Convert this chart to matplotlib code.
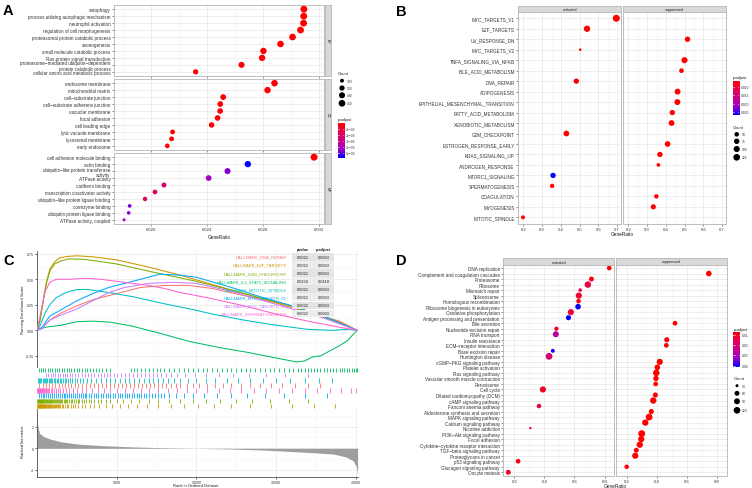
import numpy as np
import matplotlib
matplotlib.use('Agg')
import matplotlib.pyplot as plt
from matplotlib.colors import LinearSegmentedColormap, Normalize

plt.rcParams['font.family'] = ['Liberation Sans', 'DejaVu Sans']

# ================= Panel A : GO enrichment =================
a_bp_terms = ['autophagy', 'process utilizing autophagic mechanism', 'neutrophil activation',
              'regulation of cell morphogenesis', 'proteasomal protein catabolic process',
              'axonogenesis', 'small molecule catabolic process', 'Ras protein signal transduction',
              'proteasome−mediated ubiquitin−dependent\nprotein catabolic process',
              'cellular amino acid metabolic process']
a_bp_ratio = [0.03090, 0.03089, 0.03088, 0.03066, 0.03009, 0.02923, 0.02801, 0.02791, 0.02644, 0.02316]
a_bp_count = [468, 466, 465, 461, 452, 440, 425, 423, 402, 350]
a_bp_padj = [0.05, 0.05, 0.05, 0.06, 0.06, 0.08, 0.10, 0.10, 0.15, 0.20]   # x 1e-9

a_cc_terms = ['endosome membrane', 'mitochondrial matrix', 'cell−substrate junction',
              'cell−substrate adherens junction', 'vacuolar membrane', 'focal adhesion',
              'cell leading edge', 'lytic vacuole membrane', 'lysosomal membrane', 'early endosome']
a_cc_ratio = [0.02880, 0.02830, 0.02513, 0.02492, 0.02491, 0.02473, 0.02430, 0.02151, 0.02144, 0.02113]
a_cc_count = [438, 430, 380, 376, 376, 373, 366, 330, 329, 324]
a_cc_padj = [0.10, 0.10, 0.10, 0.10, 0.10, 0.10, 0.10, 0.10, 0.10, 0.15]

a_mf_terms = ['cell adhesion molecule binding', 'actin binding',
              'ubiquitin−like protein transferase\nactivity', 'ATPase activity', 'cadherin binding',
              'transcription coactivator activity', 'ubiquitin−like protein ligase binding',
              'coenzyme binding', 'ubiquitin protein ligase binding', 'ATPase activity, coupled']
a_mf_ratio = [0.03163, 0.02689, 0.02544, 0.02409, 0.02089, 0.02025, 0.01954, 0.01844, 0.01837, 0.01804]
a_mf_count = [478, 425, 400, 380, 335, 325, 315, 296, 295, 290]
a_mf_padj = [0.05, 5.77, 4.60, 4.15, 2.60, 1.75, 2.00, 4.75, 4.50, 4.15]

a_count_breaks = [300, 350, 400, 450]
a_padj_breaks = [1, 2, 3, 4, 5]
a_padj_labels = ['1e−09', '2e−09', '3e−09', '4e−09', '5e−09']

# ================= Panel B : Hallmark GSEA dotplot =================
b_terms = ['MYC_TARGETS_V1', 'E2F_TARGETS', 'UV_RESPONSE_DN', 'MYC_TARGETS_V2',
           'TNFA_SIGNALING_VIA_NFKB', 'BILE_ACID_METABOLISM', 'DNA_REPAIR', 'ADIPOGENESIS',
           'EPITHELIAL_MESENCHYMAL_TRANSITION', 'FATTY_ACID_METABOLISM', 'XENOBIOTIC_METABOLISM',
           'G2M_CHECKPOINT', 'ESTROGEN_RESPONSE_EARLY', 'KRAS_SIGNALING_UP', 'ANDROGEN_RESPONSE',
           'MTORC1_SIGNALING', 'SPERMATOGENESIS', 'COAGULATION', 'MYOGENESIS', 'MITOTIC_SPINDLE']
b_group = ['activated', 'activated', 'suppressed', 'activated', 'suppressed', 'suppressed',
           'activated', 'suppressed', 'suppressed', 'suppressed', 'suppressed', 'activated',
           'suppressed', 'suppressed', 'suppressed', 'activated', 'activated', 'suppressed',
           'suppressed', 'activated']
b_ratio = [0.695, 0.539, 0.515, 0.503, 0.499, 0.483, 0.482, 0.462, 0.461, 0.434, 0.430,
           0.429, 0.409, 0.368, 0.360, 0.358, 0.353, 0.349, 0.333, 0.198]
b_count = [139, 108, 74, 29, 100, 54, 72, 92, 92, 69, 86, 86, 82, 74, 36, 72, 48, 48, 67, 40]
b_padj = [0.0064, 0.0064, 0.0065, 0.0066, 0.0064, 0.0065, 0.0066, 0.0064, 0.0064, 0.0065,
          0.0064, 0.0064, 0.0065, 0.0065, 0.0066, 0.0266, 0.0068, 0.0066, 0.0065, 0.0068]
b_count_breaks = [50, 75, 100, 125]
b_padj_breaks = [0.010, 0.015, 0.020, 0.025]
b_padj_labels = ['0.010', '0.015', '0.020', '0.025']

# ================= Panel C : GSEA running enrichment =================
c_sets = ['HALLMARK_DNA_REPAIR', 'HALLMARK_E2F_TARGETS', 'HALLMARK_G2M_CHECKPOINT',
          'HALLMARK_IL2_STAT5_SIGNALING', 'HALLMARK_MITOTIC_SPINDLE', 'HALLMARK_MYC_TARGETS_V1',
          'HALLMARK_MYC_TARGETS_V2', 'HALLMARK_SPERMATOGENESIS']
c_colors = ['#F8766D', '#CD9600', '#7CAE00', '#00BE67', '#00BFC4', '#00A9FF', '#C77CFF', '#FF61CC']
c_pvalue = ['0.0022', '0.0022', '0.0022', '0.0234', '0.0022', '0.0022', '0.0022', '0.0022']
c_padjust = ['0.0063', '0.0063', '0.0063', '0.0418', '0.0063', '0.0063', '0.0063', '0.0063']

es_dna_rank = [0, 300, 800, 1500, 2500, 3500, 4500, 5500, 6500, 8000, 9500, 11000, 13000, 15000, 17000, 19000, 20100]
es_dna = [0, 0.02, 0.10, 0.17, 0.24, 0.30, 0.34, 0.38, 0.42, 0.44, 0.44, 0.41, 0.34, 0.27, 0.18, 0.09, 0.0]
es_e2f_rank = [0, 200, 400, 600, 800, 1100, 1400, 2000, 2500, 3500, 5000, 7000, 9000, 11000, 13000, 15000, 17000, 19000, 20100]
es_e2f = [0, 0.12, 0.31, 0.48, 0.60, 0.67, 0.71, 0.725, 0.73, 0.72, 0.69, 0.62, 0.54, 0.45, 0.36, 0.27, 0.18, 0.08, 0.0]
es_g2m_rank = [0, 200, 400, 600, 800, 1100, 1500, 2000, 3000, 5000, 7000, 8500, 10000, 12000, 14000, 16000, 18000, 20100]
es_g2m = [0, 0.10, 0.30, 0.47, 0.58, 0.65, 0.68, 0.70, 0.695, 0.65, 0.58, 0.53, 0.48, 0.40, 0.32, 0.24, 0.13, 0.0]
es_il2_rank = [0, 500, 1500, 2500, 3500, 4600, 6000, 7500, 9600, 11500, 13200, 15000, 16300, 16800, 17300, 17800, 18400, 19000, 19500, 19850, 20100]
es_il2 = [0, 0.03, 0.05, 0.085, 0.09, 0.08, 0.04, -0.02, -0.11, -0.17, -0.215, -0.27, -0.31, -0.30, -0.26, -0.25, -0.20, -0.15, -0.10, -0.04, 0.0]
es_mit_rank = [0, 200, 500, 800, 1200, 1800, 2500, 3200, 4500, 6000, 8000, 9600, 11000, 13000, 15000, 17000, 18500, 19500, 20100]
es_mit = [0, 0.05, 0.17, 0.25, 0.32, 0.37, 0.40, 0.40, 0.37, 0.33, 0.26, 0.21, 0.16, 0.10, 0.05, 0.01, 0.0, 0.01, 0.0]
es_myc1_rank = [0, 300, 800, 1500, 2500, 3500, 4500, 5500, 6500, 7700, 9000, 10000, 12000, 14000, 16000, 18000, 20100]
es_myc1 = [0, 0.03, 0.14, 0.20, 0.29, 0.36, 0.42, 0.46, 0.50, 0.55, 0.54, 0.52, 0.43, 0.33, 0.24, 0.14, 0.0]
es_myc2_rank = [0, 300, 800, 1500, 2500, 3500, 4500, 5500, 7000, 8500, 10000, 12000, 14000, 16000, 18000, 20100]
es_myc2 = [0, 0.02, 0.10, 0.15, 0.21, 0.29, 0.37, 0.42, 0.46, 0.47, 0.46, 0.39, 0.30, 0.21, 0.12, 0.0]
es_sperm_rank = [0, 200, 500, 800, 1200, 2000, 3000, 4000, 5000, 6000, 7000, 8000, 9000, 11000, 13000, 15000, 17000, 19000, 20100]
es_sperm = [0, 0.15, 0.38, 0.47, 0.50, 0.50, 0.51, 0.50, 0.48, 0.46, 0.44, 0.41, 0.37, 0.31, 0.24, 0.16, 0.09, 0.03, 0.0]

hits_il2 = [120, 250, 380, 520, 660, 800, 950, 1100, 1250, 1400, 1550, 1700, 1850, 2000, 2150, 2300,
            2480, 2650, 2800, 2980, 3150, 3300, 3500, 3700, 3900, 4100, 4350, 4600, 5900, 6100, 6300,
            6500, 6750, 7000, 7250, 7500, 7750, 8000, 8300, 8600, 8900, 9200, 9500, 9800, 10100,
            10400, 10700, 11000, 11300, 11600, 11900, 12200, 12500, 12800, 13100, 13400, 13700,
            14000, 14300, 14600, 14900, 15200, 15500, 15800, 16100, 16400, 16600, 16800, 17000,
            17200, 17400, 17600, 17800, 18000, 18200, 18400, 18600, 18800, 19000, 19150, 19300,
            19450, 19600, 19750, 19900, 20000, 20080]
hits_myc2 = [550, 700, 850, 1000, 1150, 1300, 1450, 1600, 1750, 1900, 2050, 2200, 2400, 2600, 2800,
             3000, 3200, 3400, 3600, 3800, 4000, 4200, 4400, 4600, 4800, 5000, 5250, 5500, 5750,
             6000, 6250, 6500, 6750, 7000, 7250, 7500, 7800, 8100, 8400, 8800, 9300, 9900, 10600,
             11400, 12300, 13300, 14400, 15600, 17000]
hits_mit = [60, 130, 200, 270, 340, 410, 480, 560, 640, 720, 800, 880, 960, 1050, 1140, 1230, 1320,
            1420, 1520, 1620, 1730, 1840, 1950, 2070, 2200, 2350, 2500, 2700, 2900, 3150, 3400, 3700,
            4000, 4300, 4600, 4900, 5200, 5500, 5800, 6100, 6400, 6700, 7000, 7300, 7600, 7900, 8200,
            8600, 9000, 9500, 10000, 10600, 11200, 11900, 12600, 13400, 14200, 15000, 15900, 16800,
            17700, 18500]
hits_dna = [150, 350, 550, 750, 950, 1150, 1350, 1550, 1750, 1950, 2150, 2350, 2600, 2850, 3100,
            3350, 3600, 3850, 4100, 4350, 4600, 4850, 5100, 5350, 5600, 5850, 6100, 6350, 6600,
            6850, 7100, 7350, 7600, 7850, 8100, 8400, 8700, 9000, 9400, 9800, 10200, 10700, 11200,
            11700, 12200, 12800, 13400, 14000, 14700, 15400, 16200, 17000, 17800]
hits_sperm = [20, 50, 80, 110, 140, 170, 200, 240, 280, 320, 370, 420, 480, 540, 610, 680, 760, 850,
              950, 1060, 1180, 1310, 1450, 1600, 1800, 2000, 2250, 2500, 2800, 3100, 3450, 3800, 4200,
              4600, 5000, 5500, 6000, 6500, 7000, 7600, 8200, 8800, 9400, 10000, 10700, 11400, 12100,
              12800, 13600, 14400, 15200, 16000, 16800, 17600, 18400, 19100, 19700, 20050]
hits_myc1 = [100, 220, 340, 460, 580, 700, 820, 940, 1060, 1180, 1300, 1420, 1540, 1660, 1780, 1900,
             2020, 2140, 2260, 2380, 2500, 2620, 2740, 2860, 2980, 3100, 3250, 3400, 3550, 3700, 3850,
             4000, 4150, 4300, 4450, 4600, 4750, 4900, 5050, 5200, 5350, 5500, 5650, 5800, 5950,
             6100, 6250, 6400, 6550, 6700, 6850, 7000, 7200, 7400, 7600, 7800, 8000, 8300, 8700,
             9200, 9800, 10500, 11300, 12200, 13200, 14300, 15500, 16800, 18200]
hits_g2m = [10, 40, 70, 100, 130, 160, 190, 220, 250, 280, 310, 340, 370, 400, 440, 480, 520, 560,
            600, 640, 680, 720, 760, 800, 850, 900, 950, 1000, 1060, 1120, 1180, 1240, 1300, 1370,
            1440, 1510, 1580, 1660, 1740, 1820, 1900, 2000, 2100, 2200, 2300, 2420, 2540, 2660, 2800,
            2950, 3100, 3250, 3400, 3600, 3800, 4000, 4300, 4600, 5000, 5400, 5900, 6400, 7000, 7600,
            8300, 9000, 9800, 10600, 11500, 12500, 13500, 14600, 15800, 17000]
hits_e2f = [5, 30, 55, 80, 105, 130, 155, 180, 205, 230, 260, 290, 320, 350, 380, 410, 440, 475, 510,
            545, 580, 620, 660, 700, 740, 780, 830, 880, 930, 980, 1040, 1100, 1160, 1230, 1300, 1380,
            1460, 1550, 1650, 1750, 1850, 1970, 2100, 2250, 2400, 2600, 2800, 3000, 3300, 3600, 3900,
            4300, 4700, 5200, 5700, 6300, 6900, 7600, 8400, 9200, 10100, 11100, 12200, 13400, 14700,
            16000, 17400, 18700]

metric_rank = [0, 50, 150, 400, 800, 1500, 2500, 4000, 6000, 8000, 10000, 12000, 14000, 15000,
               17000, 18600, 19400, 19850, 20050, 20130]
metric_value = [3.0, 2.0, 1.4, 1.1, 0.87, 0.6, 0.4, 0.25, 0.13, 0.05, 0.0, -0.06, -0.15, -0.22,
                -0.38, -0.53, -0.8, -1.15, -1.7, -2.4]

# ================= Panel D : KEGG GSEA dotplot =================
d_terms = ['DNA replication', 'Complement and coagulation cascades', 'Proteasome', 'Ribosome',
           'Mismatch repair', 'Spliceosome', 'Homologous recombination',
           'Ribosome biogenesis in eukaryotes', 'Oxidative phosphorylation',
           'Antigen processing and presentation', 'Bile secretion', 'Nucleotide excision repair',
           'RNA transport', 'Insulin resistance', 'ECM−receptor interaction', 'Base excision repair',
           'Huntington disease', 'cGMP−PKG signaling pathway', 'Platelet activation',
           'Ras signaling pathway', 'Vascular smooth muscle contraction', 'Peroxisome', 'Cell cycle',
           'Dilated cardiomyopathy (DCM)', 'cAMP signaling pathway', 'Fanconi anemia pathway',
           'Aldosterone synthesis and secretion', 'MAPK signaling pathway', 'Calcium signaling pathway',
           'Nicotine addiction', 'PI3K−Akt signaling pathway', 'Focal adhesion',
           'Cytokine−cytokine receptor interaction', 'TGF−beta signaling pathway',
           'Proteoglycans in cancer', 'p53 signaling pathway', 'Glucagon signaling pathway',
           'Oocyte meiosis']
d_group = ['activated', 'suppressed', 'activated', 'activated', 'activated', 'activated', 'activated',
           'activated', 'activated', 'activated', 'suppressed', 'activated', 'activated', 'suppressed',
           'suppressed', 'activated', 'activated', 'suppressed', 'suppressed', 'suppressed',
           'suppressed', 'suppressed', 'activated', 'suppressed', 'suppressed', 'activated',
           'suppressed', 'suppressed', 'suppressed', 'activated', 'suppressed', 'suppressed',
           'suppressed', 'suppressed', 'suppressed', 'activated', 'suppressed', 'activated']
d_ratio = [0.831, 0.745, 0.713, 0.689, 0.638, 0.629, 0.627, 0.624, 0.576, 0.560, 0.520, 0.480,
           0.476, 0.465, 0.462, 0.456, 0.431, 0.418, 0.402, 0.395, 0.393, 0.391, 0.390, 0.389,
           0.375, 0.364, 0.362, 0.347, 0.322, 0.307, 0.298, 0.295, 0.285, 0.262, 0.255, 0.225,
           0.198, 0.160]
d_count = [55, 80, 60, 110, 35, 100, 50, 80, 100, 65, 55, 45, 95, 65, 55, 40, 125, 100, 80, 115,
           75, 55, 100, 65, 110, 50, 65, 125, 105, 28, 130, 100, 105, 60, 100, 55, 50, 60]
d_padj = [0.0075, 0.0076, 0.0080, 0.0142, 0.0177, 0.0125, 0.0090, 0.0410, 0.0142, 0.0416, 0.0076,
          0.0108, 0.0280, 0.0076, 0.0078, 0.0400, 0.0210, 0.0076, 0.0076, 0.0076, 0.0077, 0.0078,
          0.0115, 0.0077, 0.0076, 0.0142, 0.0077, 0.0076, 0.0076, 0.0142, 0.0076, 0.0076, 0.0076,
          0.0078, 0.0076, 0.0108, 0.0080, 0.0125]
d_count_breaks = [30, 60, 90, 120]
d_padj_breaks = [0.01, 0.02, 0.03, 0.04]
d_padj_labels = ['0.01', '0.02', '0.03', '0.04']

# ================= helpers =================
W, H = 752, 489
fig = plt.figure(figsize=(W / 100, H / 100), dpi=100)
cmap = LinearSegmentedColormap.from_list('rb', ['#FF0000', '#E8004F', '#C80088', '#9E00C7', '#0000FF'])
TXT = '#333333'
GRID = '#EBEBEB'
GRIDMIN = '#F5F5F5'
BORDER = '#BDBDBD'


def add_ax(x0, y0, x1, y1, **kw):
    return fig.add_axes([x0 / W, 1 - y1 / H, (x1 - x0) / W, (y1 - y0) / H], **kw)


def diam(c, cmin, cmax, dmin, dmax):
    c = np.asarray(c, float)
    return dmin + (dmax - dmin) * np.sqrt(np.clip((c - cmin) / (cmax - cmin), 0, 1))


def s_of(d):
    return (np.asarray(d) * 0.72) ** 2


def dot_panel(ax, xv, rows, dd, cols, nrows, xlim, xmaj, xminr, labels=None, show_x=True, xlabs=None):
    ax.set_xlim(*xlim)
    ax.set_ylim(nrows - 0.4, -0.6)
    for v in xminr:
        ax.axvline(v, color=GRIDMIN, lw=0.4, zorder=0)
    for v in xmaj:
        ax.axvline(v, color=GRID, lw=0.6, zorder=0)
    for r in range(nrows):
        ax.axhline(r, color=GRID, lw=0.6, zorder=0)
    ax.scatter(xv, rows, s=s_of(dd), c=cols, linewidths=0, zorder=3)
    for sp in ax.spines.values():
        sp.set_color(BORDER)
        sp.set_linewidth(0.7)
    ax.set_yticks(range(nrows))
    if labels is not None:
        ax.set_yticklabels(labels, fontsize=3.3, color=TXT, linespacing=1.15)
    else:
        ax.set_yticklabels([])
    ax.set_xticks(xmaj)
    if show_x:
        ax.set_xticklabels(xlabs, fontsize=3.1, color=TXT)
    else:
        ax.tick_params(axis='x', length=0)
        ax.set_xticklabels([])
    ax.tick_params(length=1.5, width=0.4, color='#333333', pad=1)


def strip(x0, y0, x1, y1, text, rot=0):
    sa = add_ax(x0, y0, x1, y1)
    sa.set_facecolor('#D9D9D9')
    sa.set_xticks([])
    sa.set_yticks([])
    for sp in sa.spines.values():
        sp.set_color(BORDER)
        sp.set_linewidth(0.7)
    sa.text(0.5, 0.5, text, fontsize=2.6, color='#1A1A1A', ha='center', va='center',
            rotation=rot, transform=sa.transAxes)


def colorbar(x0, y0, x1, y1, vmin, vmax, breaks, labels, title):
    cax = add_ax(x0, y0, x1, y1)
    grad = np.linspace(0, 1, 256)[:, None]
    cax.imshow(grad, aspect='auto', cmap=cmap, extent=[0, 1, 1, 0])
    cax.set_xlim(0, 1)
    cax.set_ylim(1, 0)
    cax.axis('off')
    for b, lab in zip(breaks, labels):
        t = (b - vmin) / (vmax - vmin)
        cax.plot([0, 0.22], [t, t], color='white', lw=0.4)
        cax.plot([0.78, 1], [t, t], color='white', lw=0.4)
        fig.text((x1 + 1.8) / W, 1 - (y0 + t * (y1 - y0)) / H, lab, fontsize=2.4, color=TXT,
                 ha='left', va='center')
    fig.text(x0 / W, 1 - (y0 - 3.5) / H, title, fontsize=3.0, color='#1A1A1A', ha='left', va='center')


def size_legend(ax, x_title, y_title, x_dot, ys, breaks, cmin, cmax, dmin, dmax):
    fig.text(x_title / W, 1 - y_title / H, 'Count', fontsize=3.0, color='#1A1A1A', ha='left', va='center')
    dd = diam(breaks, cmin, cmax, dmin, dmax)
    ax.scatter([x_dot] * len(breaks), ys, s=s_of(dd), c='black', linewidths=0, zorder=5)
    for y, b in zip(ys, breaks):
        fig.text((x_dot + 5) / W, 1 - y / H, str(b), fontsize=2.4, color=TXT, ha='left', va='center')


# ================= Panel A drawing =================
a_xlim = (0.01732, 0.03234)
a_xmaj = [0.020, 0.024, 0.028, 0.032]
a_xmin = [0.018, 0.022, 0.026, 0.030]
a_norm = Normalize(0.0123, 5.774)
a_cmin, a_cmax = 290, 478
a_dmin, a_dmax = 3.0, 7.0
a_facets = [(a_bp_terms, a_bp_ratio, a_bp_count, a_bp_padj, 'BP'),
            (a_cc_terms, a_cc_ratio, a_cc_count, a_cc_padj, 'CC'),
            (a_mf_terms, a_mf_ratio, a_mf_count, a_mf_padj, 'MF')]
a_tops = [6, 80, 154]
for i, (terms, ratio, count, padj, name) in enumerate(a_facets):
    y0 = a_tops[i]
    y1 = y0 + 71
    ax = add_ax(114, y0, 324, y1)
    dot_panel(ax, ratio, np.arange(len(terms)), diam(count, a_cmin, a_cmax, a_dmin, a_dmax),
              cmap(a_norm(padj)), len(terms), a_xlim, a_xmaj, a_xmin, labels=terms,
              show_x=(i == 2), xlabs=['0.020', '0.024', '0.028', '0.032'])
    strip(324.5, y0, 331, y1, name, rot=-90)
fig.text(219 / W, 1 - 237.5 / H, 'GeneRatio', fontsize=3.4, color='#1A1A1A', ha='center', va='center')

# ================= Panel B drawing =================
b_xlim = (0.173, 0.72)
b_xmaj = [0.2, 0.3, 0.4, 0.5, 0.6, 0.7]
b_xmin = [0.25, 0.35, 0.45, 0.55, 0.65]
b_norm = Normalize(0.00643, 0.0266)
b_cmin, b_cmax = 29, 139
b_dmin, b_dmax = 2.6, 7.0
b_rows = np.arange(len(b_terms))
for j, (grp, x0, x1) in enumerate([('activated', 518.3, 621), ('suppressed', 623.3, 726)]):
    ax = add_ax(x0, 13, x1, 224.6)
    idx = [k for k, g in enumerate(b_group) if g == grp]
    dot_panel(ax, [b_ratio[k] for k in idx], [b_rows[k] for k in idx],
              diam([b_count[k] for k in idx], b_cmin, b_cmax, b_dmin, b_dmax),
              cmap(b_norm([b_padj[k] for k in idx])), len(b_terms), b_xlim, b_xmaj, b_xmin,
              labels=(b_terms if j == 0 else None), xlabs=['0.2', '0.3', '0.4', '0.5', '0.6', '0.7'])
    if j == 1:
        ax.tick_params(axis='y', length=0)
    strip(x0, 6.7, x1, 13, grp)
fig.text(622 / W, 1 - 234.5 / H, 'GeneRatio', fontsize=3.4, color='#1A1A1A', ha='center', va='center')

# ================= Panel D drawing =================
d_xlim = (0.1267, 0.863)
d_xmaj = [0.2, 0.4, 0.6, 0.8]
d_xmin = [0.3, 0.5, 0.7]
d_norm = Normalize(0.0074, 0.0416)
d_cmin, d_cmax = 28, 130
d_dmin, d_dmax = 2.4, 6.9
d_rows = np.arange(len(d_terms))
for j, (grp, x0, x1) in enumerate([('activated', 503.3, 614), ('suppressed', 616, 726.5)]):
    ax = add_ax(x0, 265.7, x1, 476.6)
    idx = [k for k, g in enumerate(d_group) if g == grp]
    dot_panel(ax, [d_ratio[k] for k in idx], [d_rows[k] for k in idx],
              diam([d_count[k] for k in idx], d_cmin, d_cmax, d_dmin, d_dmax),
              cmap(d_norm([d_padj[k] for k in idx])), len(d_terms), d_xlim, d_xmaj, d_xmin,
              labels=(d_terms if j == 0 else None), xlabs=['0.2', '0.4', '0.6', '0.8'])
    if j == 1:
        ax.tick_params(axis='y', length=0)
    strip(x0, 259.3, x1, 265.7, grp)
fig.text(615 / W, 1 - 486.3 / H, 'GeneRatio', fontsize=3.4, color='#1A1A1A', ha='center', va='center')

# ================= Panel C drawing =================
C_X0, C_X1 = 37.1, 358.5
c_xlim = (0, (C_X1 - C_X0) * 62.81)
es_curves = [(es_dna_rank, es_dna), (es_e2f_rank, es_e2f), (es_g2m_rank, es_g2m),
             (es_il2_rank, es_il2), (es_mit_rank, es_mit), (es_myc1_rank, es_myc1),
             (es_myc2_rank, es_myc2), (es_sperm_rank, es_sperm)]
es_ax = add_ax(C_X0, 252, C_X1, 368)
es_ax.set_xlim(*c_xlim)
es_ax.set_ylim(-0.359, 0.777)
for v in [2500, 7500, 12500, 17500]:
    es_ax.axvline(v, color=GRIDMIN, lw=0.4, zorder=0)
for v in [5000, 10000, 15000, 20000]:
    es_ax.axvline(v, color=GRID, lw=0.6, zorder=0)
for v in [-0.125, 0.125, 0.375, 0.625]:
    es_ax.axhline(v, color=GRIDMIN, lw=0.4, zorder=0)
for v in [-0.25, 0, 0.25, 0.5, 0.75]:
    es_ax.axhline(v, color=GRID, lw=0.6, zorder=0)
for (rk, vals), col in zip(es_curves, c_colors):
    es_ax.plot(rk, vals, color=col, lw=0.75, zorder=3)
for sp in ['top', 'right', 'bottom']:
    es_ax.spines[sp].set_visible(False)
es_ax.spines['left'].set_color('#4D4D4D')
es_ax.spines['left'].set_linewidth(0.6)
es_ax.set_xticks([])
es_ax.set_yticks([-0.25, 0, 0.25, 0.5, 0.75])
es_ax.set_yticklabels(['-0.25', '0.00', '0.25', '0.50', '0.75'], fontsize=2.6, color=TXT)
es_ax.tick_params(axis='y', length=1.5, width=0.4, pad=1)
fig.text(23.3 / W, 1 - 310 / H, 'Running Enrichment Score', fontsize=3.0, color='#1A1A1A',
         rotation=90, ha='center', va='center')

# rug
rug_ax = add_ax(C_X0, 368.5, C_X1, 409.5)
rug_ax.set_xlim(*c_xlim)
rug_ax.set_ylim(8, 0)
rug_ax.axis('off')
rug_rows = [(hits_il2, c_colors[3]), (hits_myc2, c_colors[6]), (hits_mit, c_colors[4]),
            (hits_dna, c_colors[0]), (hits_sperm, c_colors[7]), (hits_myc1, c_colors[5]),
            (hits_g2m, c_colors[2]), (hits_e2f, c_colors[1])]
for i, (hits, col) in enumerate(rug_rows):
    rug_ax.vlines(hits, i + 0.05, i + 0.95, color=col, lw=0.6)

# ranked list metric
m_ax = add_ax(C_X0, 409.5, C_X1, 477.7)
m_ax.set_xlim(*c_xlim)
m_ax.set_ylim(-2.63, 3.685)
for v in [2500, 7500, 12500, 17500]:
    m_ax.axvline(v, color=GRIDMIN, lw=0.4, zorder=0)
for v in [5000, 10000, 15000, 20000]:
    m_ax.axvline(v, color=GRID, lw=0.6, zorder=0)
for v in [-1, 1, 3]:
    m_ax.axhline(v, color=GRIDMIN, lw=0.4, zorder=0)
for v in [-2, 0, 2]:
    m_ax.axhline(v, color=GRID, lw=0.6, zorder=0)
m_ax.fill_between(metric_rank, 0, metric_value, color='#9E9E9E', lw=0, zorder=2)
for sp in ['top', 'right']:
    m_ax.spines[sp].set_visible(False)
for sp in ['left', 'bottom']:
    m_ax.spines[sp].set_color('#4D4D4D')
    m_ax.spines[sp].set_linewidth(0.6)
m_ax.set_yticks([-2, 0, 2])
m_ax.set_yticklabels(['-2', '0', '2'], fontsize=2.6, color=TXT)
m_ax.set_xticks([5000, 10000, 15000, 20000])
m_ax.set_xticklabels(['5000', '10000', '15000', '20000'], fontsize=2.6, color=TXT)
m_ax.tick_params(length=1.5, width=0.4, pad=1)
fig.text(23.3 / W, 1 - 442 / H, 'Ranked list metric', fontsize=3.0, color='#1A1A1A',
         rotation=90, ha='center', va='center')
fig.text(196 / W, 1 - 486.5 / H, 'Rank in Ordered Dataset', fontsize=3.0, color='#1A1A1A',
         ha='center', va='center')

# legend names + table
tab_ax = add_ax(0, 0, W, H)
tab_ax.set_xlim(0, W)
tab_ax.set_ylim(H, 0)
tab_ax.axis('off')
tab_ax.patch.set_alpha(0)
row_y0, row_dy = 257.7, 8.1
for i, (name, col, pv, pa) in enumerate(zip(c_sets, c_colors, c_pvalue, c_padjust)):
    y = row_y0 + i * row_dy
    shade = '#E4E4E4' if i % 2 == 0 else '#EDEDED'
    tab_ax.add_patch(plt.Rectangle((292.3, y - 3.8), 20.4, 7.6, color=shade, lw=0))
    tab_ax.add_patch(plt.Rectangle((313.3, y - 3.8), 20.7, 7.6, color=shade, lw=0))
    tab_ax.text(287, y, name, fontsize=3.0, color=col, ha='right', va='center')
    tab_ax.text(302.5, y, pv, fontsize=2.8, color='#1A1A1A', ha='center', va='center')
    tab_ax.text(323.6, y, pa, fontsize=2.8, color='#1A1A1A', ha='center', va='center')
tab_ax.text(302.5, row_y0 - row_dy, 'pvalue', fontsize=2.8, color='#1A1A1A', ha='center',
            va='center', fontweight='bold')
tab_ax.text(323.6, row_y0 - row_dy, 'p.adjust', fontsize=2.8, color='#1A1A1A', ha='center',
            va='center', fontweight='bold')

# ================= legends =================
ax = tab_ax
size_legend(ax, 337.7, 74, 342, [81.7, 89, 96.3, 104.3], a_count_breaks, a_cmin, a_cmax, a_dmin, a_dmax)
colorbar(337.7, 124, 344.3, 159, 0.0123, 5.774, a_padj_breaks, a_padj_labels, 'p.adjust')

colorbar(732.7, 82, 739, 116, 0.00643, 0.0266, b_padj_breaks, b_padj_labels, 'p.adjust')
size_legend(ax, 732.7, 127.7, 736.7, [135.3, 142.3, 150, 158.3], b_count_breaks, b_cmin, b_cmax, b_dmin, b_dmax)

colorbar(733.3, 333.3, 740, 368.3, 0.0074, 0.0416, d_padj_breaks, d_padj_labels, 'p.adjust')
size_legend(ax, 733.3, 378.7, 737, [386.7, 394.3, 402.3, 411.3], d_count_breaks, d_cmin, d_cmax, d_dmin, d_dmax)

# panel letters
for lab, (x, y) in zip(['A', 'B', 'C', 'D'], [(8, 11), (401.5, 12), (9, 261), (401.5, 261)]):
    fig.text(x / W, 1 - y / H, lab, fontsize=10.5, fontweight='bold', color='black',
             ha='center', va='center')

fig.savefig('out.png', dpi=100, facecolor='white')
